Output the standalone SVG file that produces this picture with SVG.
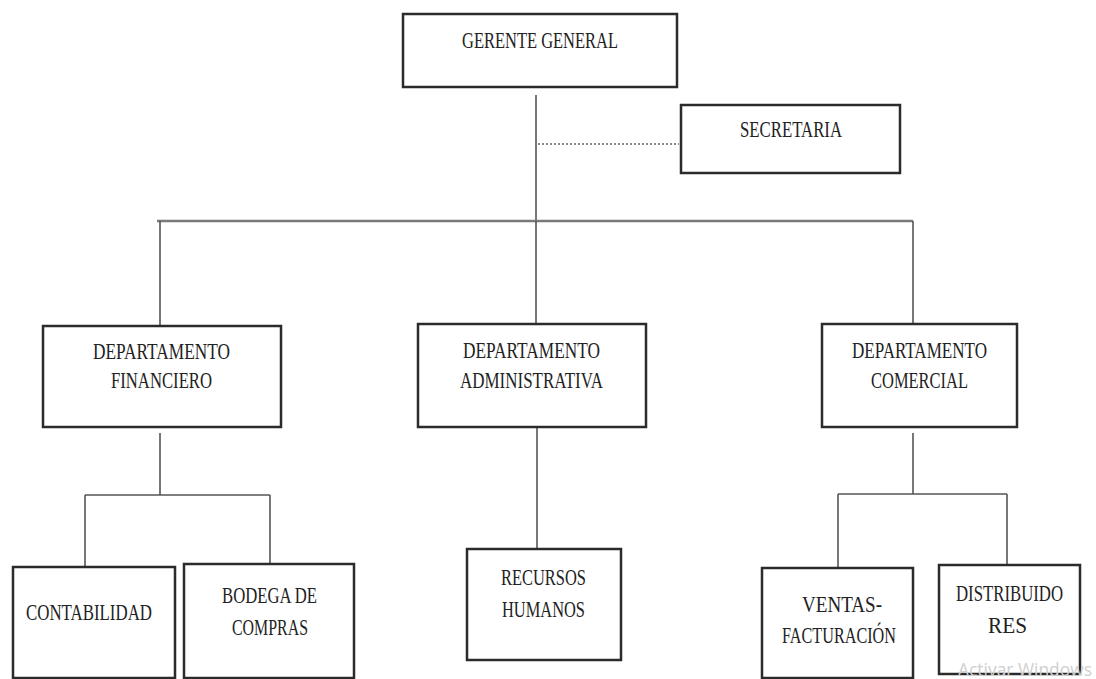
<svg xmlns="http://www.w3.org/2000/svg" width="1096" height="679" viewBox="0 0 1096 679">
<style>
.box{fill:#fff;stroke:#2b2b2b;stroke-width:2.5}
.t{font-family:"Liberation Serif","DejaVu Serif","Times New Roman",serif;font-size:24px;fill:#222}
.c{fill:none;stroke:#555;stroke-width:1.6}
.h{fill:none;stroke:#7a7a7a;stroke-width:2.5}
.d{fill:none;stroke:#888;stroke-width:2;stroke-dasharray:2 2}
.wm{font-family:"Open Sans","Liberation Sans",sans-serif;font-size:18px;fill:#d0d0d0}
</style>
<rect width="1096" height="679" fill="#fff"/>
<g id="connectors">
<line class="c" x1="536" y1="95" x2="536" y2="221"/>
<line class="d" x1="538" y1="144" x2="679" y2="144"/>
<line class="h" x1="157" y1="221" x2="913" y2="221"/>
<line class="c" x1="160" y1="221" x2="160" y2="326"/>
<line class="c" x1="536" y1="221" x2="536" y2="324"/>
<line class="c" x1="913" y1="221" x2="913" y2="324"/>
<line class="c" x1="160" y1="433" x2="160" y2="495"/>
<line class="c" x1="85" y1="495" x2="270" y2="495"/>
<line class="c" x1="85" y1="495" x2="85" y2="567"/>
<line class="c" x1="270" y1="495" x2="270" y2="564"/>
<line class="c" x1="537" y1="427" x2="537" y2="549"/>
<line class="c" x1="913" y1="433" x2="913" y2="494"/>
<line class="c" x1="838" y1="494" x2="1007" y2="494"/>
<line class="c" x1="838" y1="494" x2="838" y2="568"/>
<line class="c" x1="1007" y1="494" x2="1007" y2="565"/>
</g>
<g id="gerente">
<rect class="box" x="403" y="14" width="274" height="73"/>
<text class="t" x="462" y="48" textLength="156" lengthAdjust="spacingAndGlyphs">GERENTE GENERAL</text>
</g>
<g id="secretaria">
<rect class="box" x="681" y="105" width="219" height="68"/>
<text class="t" x="740" y="137" textLength="102" lengthAdjust="spacingAndGlyphs">SECRETARIA</text>
</g>
<g id="financiero">
<rect class="box" x="43" y="326" width="238" height="101"/>
<text class="t" x="93" y="359" textLength="137" lengthAdjust="spacingAndGlyphs">DEPARTAMENTO</text>
<text class="t" x="111" y="388" textLength="101" lengthAdjust="spacingAndGlyphs">FINANCIERO</text>
</g>
<g id="administrativa">
<rect class="box" x="418" y="324" width="228" height="103"/>
<text class="t" x="463" y="358" textLength="137" lengthAdjust="spacingAndGlyphs">DEPARTAMENTO</text>
<text class="t" x="460" y="388" textLength="143" lengthAdjust="spacingAndGlyphs">ADMINISTRATIVA</text>
</g>
<g id="comercial">
<rect class="box" x="822" y="324" width="195" height="103"/>
<text class="t" x="852" y="358" textLength="135" lengthAdjust="spacingAndGlyphs">DEPARTAMENTO</text>
<text class="t" x="871" y="388" textLength="97" lengthAdjust="spacingAndGlyphs">COMERCIAL</text>
</g>
<g id="contabilidad">
<rect class="box" x="13" y="567" width="162" height="111"/>
<text class="t" x="26" y="620" textLength="126" lengthAdjust="spacingAndGlyphs">CONTABILIDAD</text>
</g>
<g id="bodega">
<rect class="box" x="184" y="564" width="170" height="114"/>
<text class="t" x="222" y="603" textLength="95" lengthAdjust="spacingAndGlyphs">BODEGA DE</text>
<text class="t" x="232" y="635" textLength="76" lengthAdjust="spacingAndGlyphs">COMPRAS</text>
</g>
<g id="recursos">
<rect class="box" x="467" y="549" width="154" height="111"/>
<text class="t" x="501" y="585" textLength="85" lengthAdjust="spacingAndGlyphs">RECURSOS</text>
<text class="t" x="502" y="617" textLength="83" lengthAdjust="spacingAndGlyphs">HUMANOS</text>
</g>
<g id="ventas">
<rect class="box" x="762" y="568" width="151" height="110"/>
<text class="t" x="802" y="612" textLength="80" lengthAdjust="spacingAndGlyphs">VENTAS-</text>
<text class="t" x="782" y="643" textLength="114" lengthAdjust="spacingAndGlyphs">FACTURACIÓN</text>
</g>
<g id="distribuidores">
<rect class="box" x="939" y="565" width="141" height="109"/>
<text class="t" x="956" y="601" textLength="107" lengthAdjust="spacingAndGlyphs">DISTRIBUIDO</text>
<text class="t" x="988" y="633" textLength="39" lengthAdjust="spacingAndGlyphs">RES</text>
</g>
<text class="wm" x="958" y="676" textLength="134" lengthAdjust="spacingAndGlyphs">Activar Windows</text>
</svg>
